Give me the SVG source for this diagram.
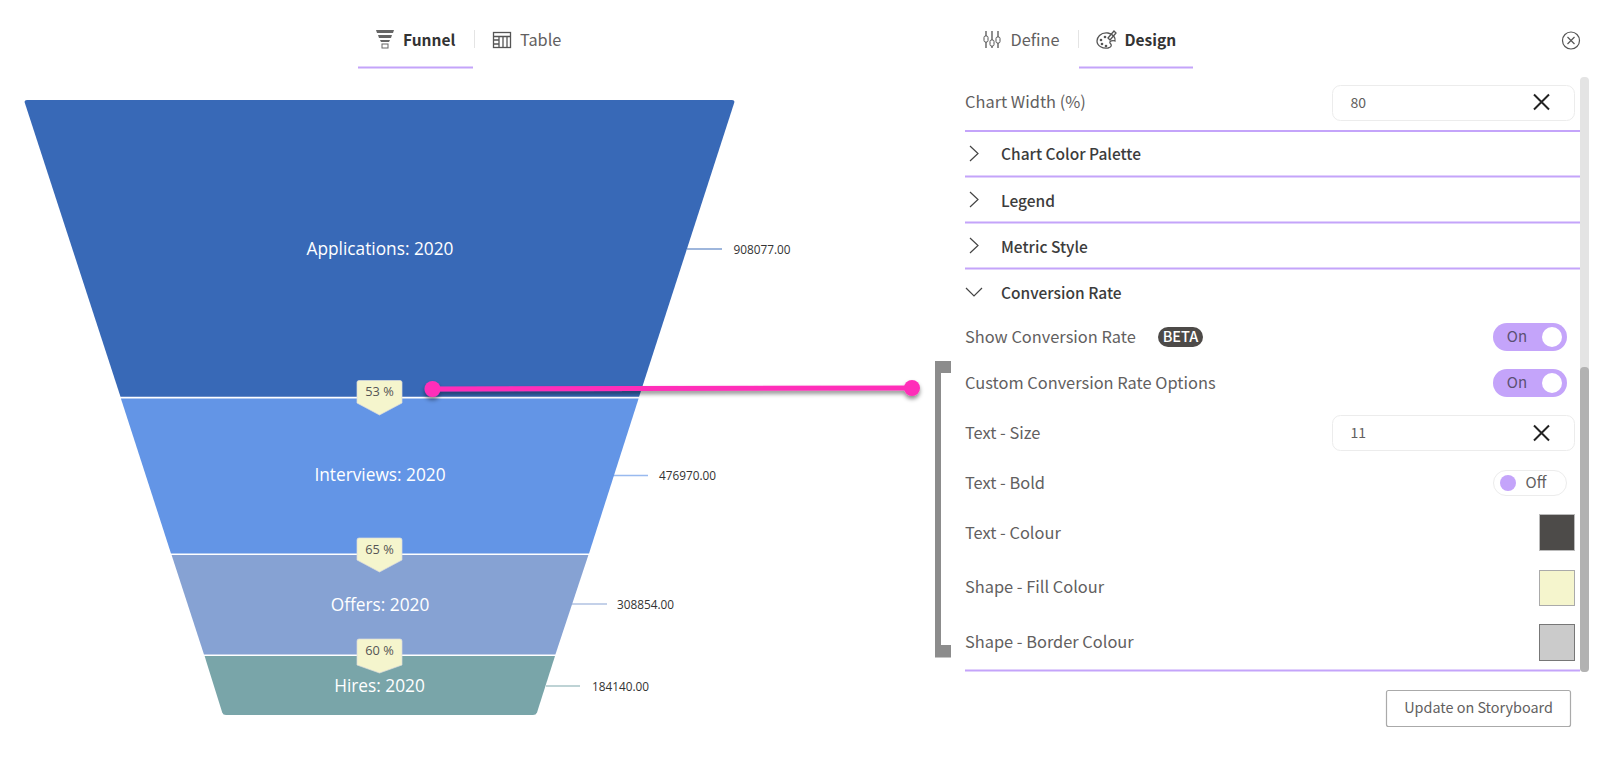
<svg xmlns="http://www.w3.org/2000/svg" width="1600" height="757" viewBox="0 0 1600 757">
<style>
text{font-family:"Noto Sans CJK SC","Noto Sans",sans-serif;fill:#626060}
.tab{font-size:16.300px}
.b{font-size:15.500px;font-weight:700;fill:#333}
.sec{font-size:15.500px;font-weight:500;fill:#3c3c3c}
.lab{font-size:16.400px}
.fl{font-family:"Open Sans","Noto Sans",sans-serif;font-size:17.300px;fill:#fff;text-anchor:middle}
.val{font-family:"Open Sans","Noto Sans",sans-serif;font-size:11.800px;fill:#333}
.pct{font-family:"Open Sans","Noto Sans",sans-serif;font-size:12.800px;fill:#555;text-anchor:middle}
.tag{fill:#f5f5cd;stroke:#ddd;stroke-width:.7}
.rule{stroke:#c4a4fa;stroke-width:2;fill:none}
.tabline{stroke:#c4a4fa;stroke-width:2}
.sep{stroke:#e4e4e4;stroke-width:1}
.ic{fill:none;stroke:#555;stroke-width:1.3}
.chev{fill:none;stroke:#444;stroke-width:1.2}
.input{fill:#fff;stroke:#ececec;stroke-width:1}
.x{stroke:#222;stroke-width:2;fill:none}
.on{fill:#c4a4fa}
.knob{fill:#fff}
.ont{font-size:15px;fill:#5b5072;text-anchor:middle}
.lead{stroke-width:1.4;fill:none;stroke-opacity:.65}
.num{font-size:14px}
</style>
<defs>
<filter id="sh" x="-5%" y="-200%" width="110%" height="500%"><feDropShadow dx="0" dy="3" stdDeviation="2" flood-color="#000" flood-opacity=".45"/></filter>
</defs>
<rect width="1600" height="757" fill="#fff"/>

<g id="tab-funnel">
<path d="M376 30h18l-1 3h-16zM378 35h14l-1 3h-12zM380 40h10l-1 2h-8z" fill="#666"/>
<rect x="382" y="44" width="6" height="4" fill="none" stroke="#666"/>
<text class="tab b" x="403" y="46">Funnel</text>
<line class="tabline" x1="358" y1="67.500" x2="473" y2="67.500"/>
<line class="sep" x1="474.500" y1="30" x2="474.500" y2="48"/>
</g>
<g id="tab-table">
<rect class="ic" x="493.500" y="32.500" width="17" height="15"/>
<path class="ic" d="M493.500 36.500H510.500M499 36.500V47.500M503 36.500V47.500M507 36.500V47.500M493.500 40H499M493.500 44H499" stroke-width="1"/>
<text class="tab" x="520" y="46">Table</text>
</g>
<g id="tab-define">
<path class="ic" d="M986 31V48M992 31V48M998 31V48"/>
<rect x="984" y="36" width="4" height="6" rx="1.500" fill="#fff" stroke="#555"/>
<rect x="990" y="40" width="4" height="6" rx="1.500" fill="#fff" stroke="#555"/>
<rect x="996" y="37" width="4" height="6" rx="1.500" fill="#fff" stroke="#555"/>
<text class="tab" x="1010.500" y="46">Define</text>
<line class="sep" x1="1078.500" y1="30" x2="1078.500" y2="48"/>
</g>
<g id="tab-design">
<path class="ic" d="M1108 33C1100 32 1097 38 1097 41C1097 46 1103 49 1108 48C1112 47 1112 45 1110 43C1109 41 1113 40 1115 41C1116 38 1113 34 1108 33Z"/>
<circle cx="1101" cy="40" r="1.300" fill="#555"/><circle cx="1102" cy="44" r="1.300" fill="#555"/><circle cx="1106" cy="46" r="1.300" fill="#555"/><circle cx="1105" cy="37" r="1.300" fill="#555"/>
<path class="ic" d="M1108 38L1114 31L1116 33L1110 40Z"/>
<text class="tab b" x="1124.500" y="46">Design</text>
<line class="tabline" x1="1079" y1="67.500" x2="1193" y2="67.500"/>
</g>
<g id="close">
<circle cx="1571" cy="40.500" r="8.500" fill="none" stroke="#555" stroke-width="1.200"/>
<path d="M1567.500 37L1574.500 44M1574.500 37L1567.500 44" stroke="#555" stroke-width="1.200"/>
</g>

<g id="funnel-applications">
<path d="M27 100H732Q735 100 734.300 102.500L639.100 396.800H120.500L24.700 102.500Q24 100 27 100Z" fill="#3869b7"/>
<text class="fl" x="380" y="254.500">Applications: 2020</text>
<line class="lead" stroke="#3869b7" x1="687" y1="249" x2="722" y2="249"/>
<text class="val" x="733.500" y="254">908077.00</text>
</g>
<g id="funnel-interviews">
<path d="M120.900 398.600H638.600L589 553.400H171Z" fill="#6395e6"/>
<text class="fl" x="380" y="480.500">Interviews: 2020</text>
<line class="lead" stroke="#6395e6" x1="613" y1="475.500" x2="648" y2="475.500"/>
<text class="val" x="659" y="480">476970.00</text>
</g>
<g id="funnel-offers">
<path d="M171.600 555H588.400L555.400 654.400H204Z" fill="#86a2d3"/>
<text class="fl" x="380" y="610.500">Offers: 2020</text>
<line class="lead" stroke="#86a2d3" x1="572" y1="604" x2="607" y2="604"/>
<text class="val" x="617" y="609">308854.00</text>
</g>
<g id="funnel-hires">
<path d="M204.600 656H555L537 712.500Q536 715 533 715H226Q223 715 222.200 712.500Z" fill="#79a5a9"/>
<text class="fl" x="379.500" y="691.500">Hires: 2020</text>
<line class="lead" stroke="#79a5a9" x1="546" y1="686" x2="580" y2="686"/>
<text class="val" x="592" y="691">184140.00</text>
</g>
<g id="tag-53">
<path class="tag" d="M359 380.500H400Q402 380.500 402 382.500V403L379.500 415L357 403V382.500Q357 380.500 359 380.500Z"/>
<text class="pct" x="379.500" y="396">53 %</text>
</g>
<g id="tag-65">
<path class="tag" d="M359 538H400Q402 538 402 540V560L379.500 572L357 560V540Q357 538 359 538Z"/>
<text class="pct" x="379.500" y="553.500">65 %</text>
</g>
<g id="tag-60">
<path class="tag" d="M359 639H400Q402 639 402 641V665L379.500 673L357 665V641Q357 639 359 639Z"/>
<text class="pct" x="379.500" y="654.500">60 %</text>
</g>

<g id="connectors">
<g filter="url(#sh)">
<line x1="432.500" y1="389" x2="912" y2="388" stroke="#ff2fb9" stroke-width="5"/>
<circle cx="432.500" cy="389" r="8" fill="#ff2fb9"/>
<circle cx="912" cy="388" r="8" fill="#ff2fb9"/>
</g>
</g>
<g id="bracket">
<path d="M935 361H951V373H941V645H951V657.500H935Z" fill="#8c8c8c"/>
</g>

<g id="scrollbar">
<rect x="1580" y="77" width="9" height="595" rx="4" fill="#e4e4e4"/>
<rect x="1580" y="367" width="9" height="305" rx="4" fill="#b2b2b2"/>
</g>

<g id="row-chart-width">
<text class="lab" x="965" y="108">Chart Width (%)</text>
<rect class="input" x="1332.500" y="85.500" width="242" height="35" rx="8"/>
<text class="num" x="1350.500" y="108">80</text>
<path class="x" d="M1534 94.500L1549 109.500M1549 94.500L1534 109.500"/>
<line class="rule" x1="965" y1="131" x2="1580" y2="131"/>
</g>
<g id="row-palette">
<path class="chev" d="M970 146L978 153.500L970 161"/>
<text class="sec" x="1001" y="159.500">Chart Color Palette</text>
<line class="rule" x1="965" y1="176.500" x2="1580" y2="176.500"/>
</g>
<g id="row-legend">
<path class="chev" d="M970 192L978 199.500L970 207"/>
<text class="sec" x="1001" y="206.500">Legend</text>
<line class="rule" x1="965" y1="222.500" x2="1580" y2="222.500"/>
</g>
<g id="row-metric">
<path class="chev" d="M970 238L978 245.500L970 253"/>
<text class="sec" x="1001" y="252.500">Metric Style</text>
<line class="rule" x1="965" y1="268.500" x2="1580" y2="268.500"/>
</g>
<g id="row-conversion">
<path class="chev" d="M966 288L974 296L982 288"/>
<text class="sec" x="1001" y="298.500">Conversion Rate</text>
</g>
<g id="row-show">
<text class="lab" x="965" y="343">Show Conversion Rate</text>
<rect x="1158" y="327" width="45" height="20" rx="10" fill="#4d4a48"/>
<text x="1180.500" y="342" style="font-size:14.500px;font-weight:500;fill:#fff;text-anchor:middle">BETA</text>
<rect class="on" x="1493" y="323" width="74" height="28" rx="14"/>
<text class="ont" x="1517" y="342">On</text>
<circle class="knob" cx="1552" cy="337" r="10"/>
</g>
<g id="row-custom">
<text class="lab" x="965" y="388.500">Custom Conversion Rate Options</text>
<rect class="on" x="1493" y="369" width="74" height="28" rx="14"/>
<text class="ont" x="1517" y="388">On</text>
<circle class="knob" cx="1552" cy="383" r="10"/>
</g>
<g id="row-size">
<text class="lab" x="965" y="439">Text - Size</text>
<rect class="input" x="1332.500" y="415.500" width="242" height="35" rx="8"/>
<text class="num" x="1350.500" y="438">11</text>
<path class="x" d="M1534 425.500L1549 440.500M1549 425.500L1534 440.500"/>
</g>
<g id="row-bold">
<text class="lab" x="965" y="489">Text - Bold</text>
<rect x="1493.500" y="470.500" width="73" height="25" rx="12.500" fill="#fff" stroke="#ececec"/>
<circle class="on" cx="1508" cy="483" r="8"/>
<text x="1536" y="488" style="font-size:15px;text-anchor:middle">Off</text>
</g>
<g id="row-colour">
<text class="lab" x="965" y="538.500">Text - Colour</text>
<rect x="1539.500" y="514.500" width="35" height="36" fill="#4d4b49" stroke="#bbb"/>
</g>
<g id="row-fill">
<text class="lab" x="965" y="593">Shape - Fill Colour</text>
<rect x="1539.500" y="570.500" width="35" height="35" fill="#f5f5cd" stroke="#aaa"/>
</g>
<g id="row-border">
<text class="lab" x="965" y="648">Shape - Border Colour</text>
<rect x="1539.500" y="624.500" width="35" height="36" fill="#cbcbcb" stroke="#777"/>
<line class="rule" x1="965" y1="670.500" x2="1580" y2="670.500"/>
</g>
<g id="update-button">
<rect x="1386.500" y="690.500" width="184" height="36" rx="2" fill="#fff" stroke="#aaa" stroke-width="1.200"/>
<text x="1478.500" y="713" style="font-size:14.400px;text-anchor:middle">Update on Storyboard</text>
</g>
</svg>
